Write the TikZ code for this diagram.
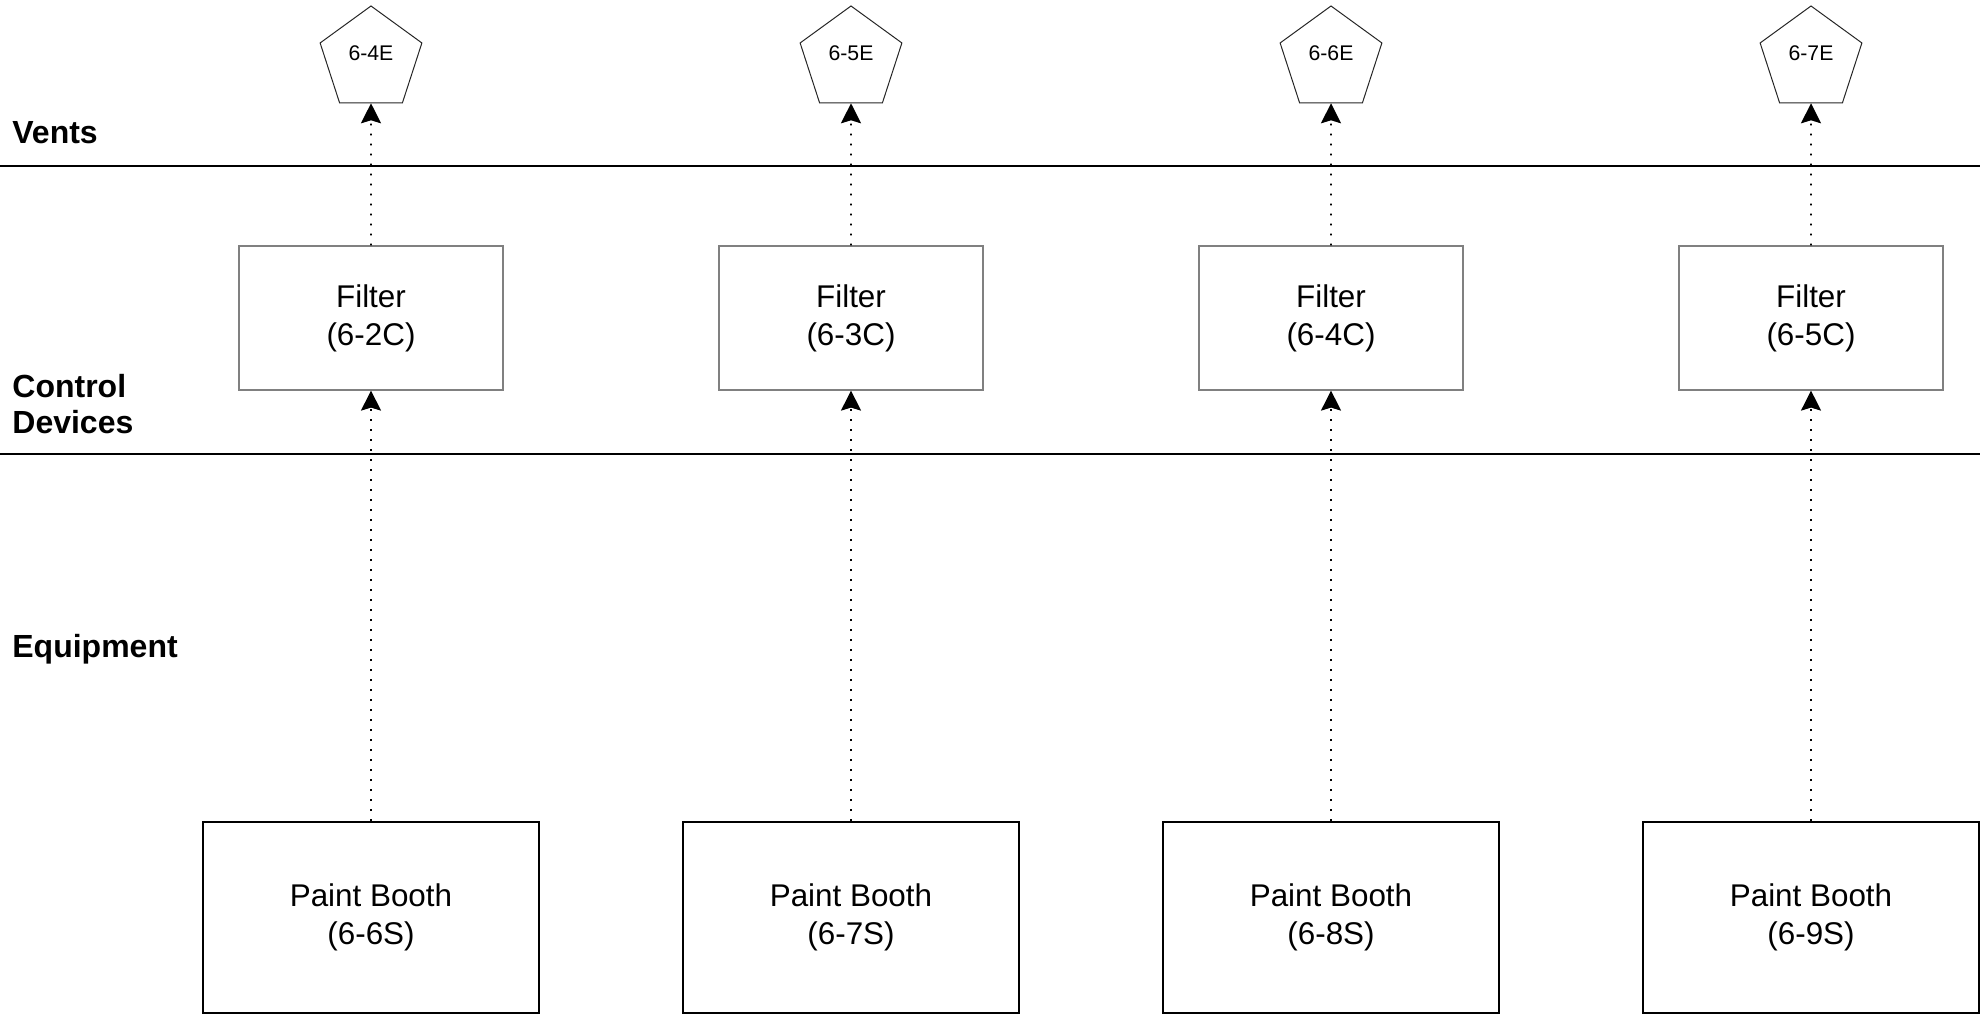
\documentclass[tikz,border=0pt]{standalone}
\usepackage{fontspec}
\setmainfont{Liberation Sans}
\usetikzlibrary{arrows.meta,shapes.geometric}

\begin{document}
\begin{tikzpicture}[x=0.5pt, y=-0.5pt,
  vent/.style={draw=black!85, line width=0.5pt, regular polygon, regular polygon sides=5,
    minimum size=53.5pt, inner sep=0pt, text depth=6pt, font=\fontsize{10.6}{12}\selectfont},
  filterbox/.style={draw=gray, line width=0.6pt, minimum width=132pt, minimum height=72pt,
    inner sep=0pt, align=center, font=\fontsize{15.7}{19}\selectfont},
  boothbox/.style={draw, line width=1pt, minimum width=168pt, minimum height=95.5pt,
    inner sep=0pt, align=center, font=\fontsize{15.7}{19}\selectfont},
  flow/.style={line width=0.9pt, dash pattern=on 0.9pt off 4.1pt,
    -{Stealth[length=10pt, width=10pt, inset=1.5pt]}},
  tier/.style={inner sep=0pt, align=left, font=\bfseries\fontsize{16}{18}\selectfont}]
\useasboundingbox (0,0) rectangle (1980,1015);

% tiers
\draw[line width=0.75pt] (0,166) -- (1980,166);
\draw[line width=0.75pt] (0,454) -- (1980,454);
\node[tier, anchor=base west] (vt) at (12,144) {Vents};
\node[tier, anchor=west] (cd) at (12,404.5) {Control\\Devices};
\node[tier, anchor=base west] (eq) at (12,657) {Equipment};

% vents
\node[vent] (v1) at (371,59.5) {6-4E};
\node[vent] (v2) at (851,59.5) {6-5E};
\node[vent] (v3) at (1331,59.5) {6-6E};
\node[vent] (v4) at (1811,59.5) {6-7E};

% filters
\node[filterbox] (f1) at (371,318) {Filter\\(6-2C)};
\node[filterbox] (f2) at (851,318) {Filter\\(6-3C)};
\node[filterbox] (f3) at (1331,318) {Filter\\(6-4C)};
\node[filterbox] (f4) at (1811,318) {Filter\\(6-5C)};

% booths
\node[boothbox] (b1) at (371,917.5) {Paint Booth\\(6-6S)};
\node[boothbox] (b2) at (851,917.5) {Paint Booth\\(6-7S)};
\node[boothbox] (b3) at (1331,917.5) {Paint Booth\\(6-8S)};
\node[boothbox] (b4) at (1811,917.5) {Paint Booth\\(6-9S)};

\draw[flow] (b1) -- (f1);
\draw[flow] (b2) -- (f2);
\draw[flow] (b3) -- (f3);
\draw[flow] (b4) -- (f4);

\draw[flow] (f1) -- (v1);
\draw[flow] (f2) -- (v2);
\draw[flow] (f3) -- (v3);
\draw[flow] (f4) -- (v4);

\end{tikzpicture}
\end{document}
